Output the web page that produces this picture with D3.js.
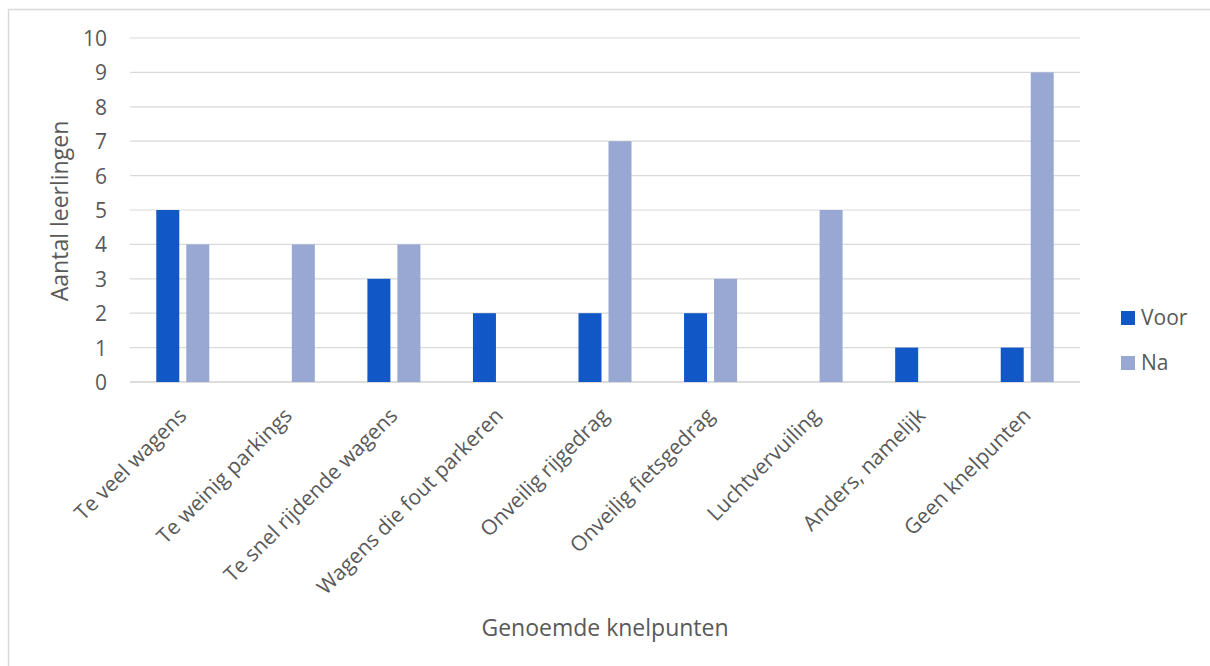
<!DOCTYPE html>
<html><head><meta charset="utf-8">
<script src="https://cdn.jsdelivr.net/npm/d3@7"></script>
<style>
html,body{margin:0;padding:0;background:#fff;}
svg{display:block;}
text{font-family:"Open Sans",sans-serif;fill:#595959;}
</style></head>
<body><svg id="chart" width="1210" height="666"></svg>
<script>
const categories = ["Te veel wagens","Te weinig parkings","Te snel rijdende wagens","Wagens die fout parkeren","Onveilig rijgedrag","Onveilig fietsgedrag","Luchtvervuiling","Anders, namelijk","Geen knelpunten"];
const seriesNames = ["Voor","Na"];
const voor = [5,0,3,2,2,2,0,1,1];
const na = [4,4,4,0,7,3,5,0,9];
const yTicks = [0,1,2,3,4,5,6,7,8,9,10];
const colors = ["#1157c6","#98a8d2"];

const svg = d3.select("#chart");
svg.append("rect").attr("x",8.5).attr("y",9.5).attr("width",1230).attr("height",700)
  .attr("fill","#fff").attr("stroke","#d9d9d9").attr("stroke-width",1.5);

const m = {left:130, right:1080, top:38, bottom:382};
const x = d3.scaleBand().domain(categories).range([m.left,m.right]).paddingInner(0).paddingOuter(0);
const y = d3.scaleLinear().domain([0,10]).range([m.bottom,m.top]);

// gridlines
svg.append("g").selectAll("line").data(yTicks).join("line")
  .attr("x1",m.left).attr("x2",m.right)
  .attr("y1",d=>y(d)).attr("y2",d=>y(d))
  .attr("stroke",d=>d===0?"#d0d0d0":"#d9d9d9").attr("stroke-width",d=>d===0?1.5:1.2);

// y axis labels
const yAxis = d3.axisLeft(y).tickValues(yTicks).tickSize(0).tickPadding(0);
const gy = svg.append("g").attr("transform",`translate(${m.left-23},0)`).call(yAxis);
gy.select(".domain").remove();
gy.selectAll("text").style("font-size","21px").style("fill","#595959").style("font-family","Open Sans")
  .attr("dy",null).attr("y",7.5);

// bars
const bw = 23, gap = 7;
const data = [voor, na];
data.forEach((vals, si) => {
  svg.append("g").selectAll("rect").data(categories.map((c,i)=>({c,v:vals[i]}))).join("rect")
    .attr("x",d=>x(d.c)+x.bandwidth()/2 + (si===0 ? -(bw+gap/2) : gap/2))
    .attr("y",d=>y(d.v))
    .attr("width",bw)
    .attr("height",d=>y(0)-y(d.v))
    .attr("fill",colors[si]);
});

// x labels rotated
const xAxis = d3.axisBottom(x).tickSize(0).tickPadding(0);
const gx = svg.append("g").attr("transform",`translate(0,${m.bottom})`).call(xAxis);
gx.select(".domain").remove();
gx.selectAll("text")
  .style("font-size","21px").style("fill","#595959").style("font-family","Open Sans")
  .attr("text-anchor","end").attr("dy",null).attr("y",0)
  .attr("transform","translate(5,35) rotate(-45)");

// axis titles
svg.append("text").attr("transform",`translate(68,211) rotate(-90)`).attr("text-anchor","middle")
  .style("font-size","23px").text("Aantal leerlingen");
svg.append("text").attr("x",605).attr("y",636).attr("text-anchor","middle")
  .style("font-size","23px").text("Genoemde knelpunten");

// legend
const lg = svg.append("g");
seriesNames.forEach((s,i)=>{
  lg.append("rect").attr("x",1121).attr("y",311+i*45).attr("width",14).attr("height",14).attr("fill",colors[i]);
  lg.append("text").attr("x",1141).attr("y",325+i*45).style("font-size","21px").text(s);
});
</script></body></html>
